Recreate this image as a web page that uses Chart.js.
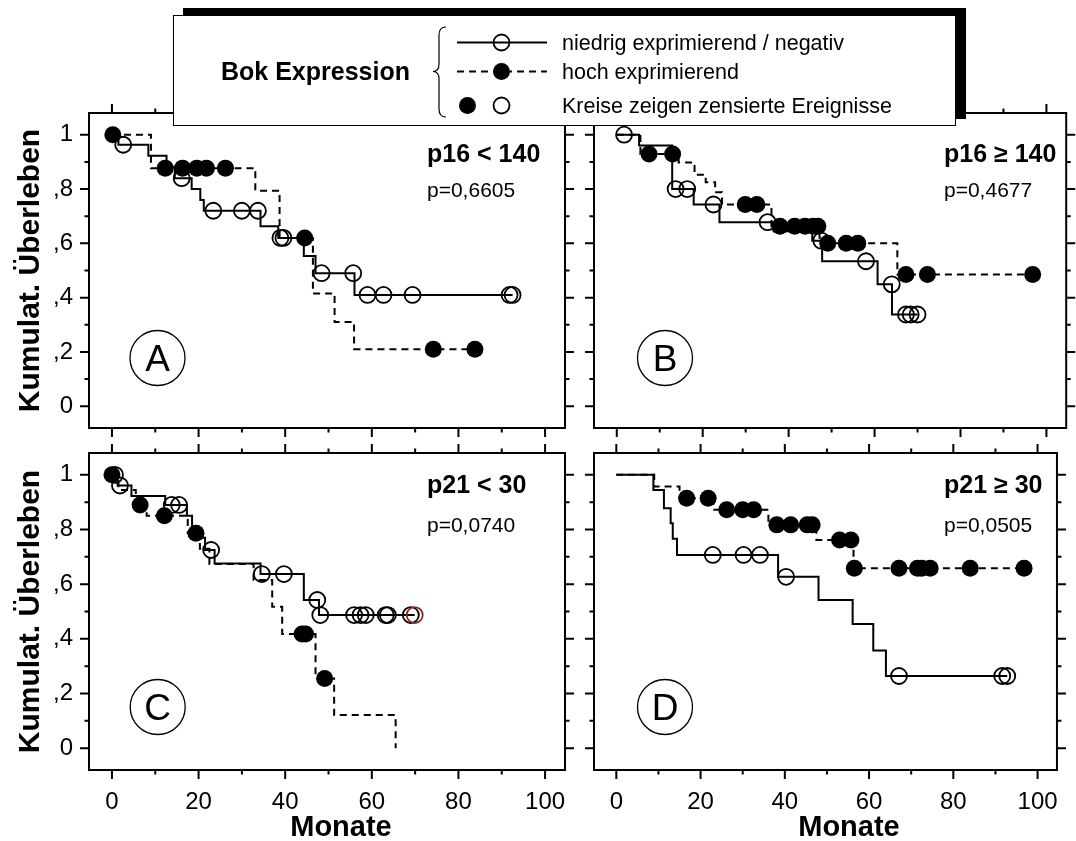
<!DOCTYPE html>
<html>
<head>
<meta charset="utf-8">
<title>Bok Expression – Kaplan-Meier</title>
<script src="https://cdn.jsdelivr.net/npm/chart.js@4.4.1/dist/chart.umd.min.js"></script>
<style>
  html, body { margin: 0; padding: 0; background: #fff; }
  #page { position: relative; width: 1076px; height: 841px; overflow: hidden; font-family: "Liberation Sans", Arial, sans-serif; color: #000; }
  #page canvas { position: absolute; left: 0; top: 0; }
  #legend { position: absolute; left: 173px; top: 15px; width: 783px; height: 111px; box-sizing: border-box;
            background: #fff; border: 1.5px solid #000; box-shadow: 10px -7px 0 0 #000; z-index: 10; }
  #legend svg { position: absolute; left: 0; top: 0; }
  #legend .head { position: absolute; left: 47px; top: 40px; font-size: 25px; font-weight: bold; line-height: 30px; white-space: nowrap; }
  #legend .lbl { position: absolute; left: 388px; font-size: 21.5px; line-height: 24px; white-space: nowrap; }
</style>
</head>
<body>
<div id="page">
  <canvas id="pA" width="1076" height="841"></canvas>
  <canvas id="pB" width="1076" height="841"></canvas>
  <canvas id="pC" width="1076" height="841"></canvas>
  <canvas id="pD" width="1076" height="841"></canvas>

  <div id="legend">
    <svg width="780" height="108">
      <path d="M 272 11 Q 265 11 265 19 L 265 48 Q 265 55.5 259 55.5 Q 265 55.5 265 63 L 265 93 Q 265 101 272 101"
            fill="none" stroke="#000" stroke-width="1.2"/>
      <line x1="283" y1="26.5" x2="373" y2="26.5" stroke="#000" stroke-width="2"/>
      <circle cx="327.5" cy="26.5" r="8" fill="none" stroke="#000" stroke-width="1.8"/>
      <line x1="283" y1="55.5" x2="373" y2="55.5" stroke="#000" stroke-width="2" stroke-dasharray="7 5"/>
      <circle cx="327.5" cy="55.5" r="8.5" fill="#000"/>
      <circle cx="293.5" cy="89.5" r="8.5" fill="#000"/>
      <circle cx="327.5" cy="89.5" r="8" fill="none" stroke="#000" stroke-width="1.8"/>
    </svg>
    <div class="head">Bok Expression</div>
    <div class="lbl" style="top:14.5px">niedrig exprimierend / negativ</div>
    <div class="lbl" style="top:43.5px">hoch exprimierend</div>
    <div class="lbl" style="top:77.5px">Kreise zeigen zensierte Ereignisse</div>
  </div>
</div>

<script>
// ---- Daten: Stufenzeitpunkte (Monate), Überlebensrate ab diesem Zeitpunkt, zensierte Zeitpunkte ----
// A: p16 < 140
const aLowT = [0, 1.5, 8.4, 12.6, 14.5, 18.4, 20.4, 21.2, 34.3, 38.4, 44.3, 47, 56, 92.5];
const aLowS = [1, 0.963, 0.923, 0.88, 0.84, 0.80, 0.76, 0.72, 0.663, 0.62, 0.553, 0.49, 0.41, 0.41];
const aLowCens = [2.6, 16.1, 23.4, 30, 33.7, 38.9, 39.6, 48.4, 55.7, 59, 62.7, 69.4, 91.8, 92.5];
const aHighT = [0, 9, 33.1, 38.7, 46.4, 51.4, 55.9, 83.8];
const aHighS = [1, 0.877, 0.794, 0.62, 0.415, 0.31, 0.21, 0.21];
const aHighCens = [0.2, 12.3, 16.3, 19.6, 21.8, 26.2, 44.5, 74.2, 83.8];

// B: p16 >= 140
const bLowT = [0, 5.2, 12.9, 17.9, 23.9, 36.5, 45.5, 47.8, 60.7, 64.05, 70];
const bLowS = [1, 0.96, 0.80, 0.743, 0.678, 0.645, 0.61, 0.534, 0.449, 0.338, 0.338];
const bLowCens = [1.7, 13.7, 16.4, 22.5, 35.1, 47.6, 58, 64, 67.3, 68.4, 70];
const bHighT = [0, 5.5, 14.4, 18.1, 20.7, 22.9, 24.5, 36, 47.2, 65.3, 96.8];
const bHighS = [1, 0.929, 0.898, 0.853, 0.825, 0.788, 0.743, 0.663, 0.60, 0.485, 0.485];
const bHighCens = [7.5, 13, 29.9, 32.6, 38, 41.4, 43.8, 45.7, 46.8, 49.1, 53.4, 56.1, 67.3, 72.3, 96.8];

// C: p21 < 30
const cLowT = [0, 1.3, 4.5, 12.3, 17.3, 18.5, 20, 21.5, 23.7, 34.3, 44.3, 47.8, 69.9];
const cLowS = [1, 0.961, 0.923, 0.89, 0.85, 0.81, 0.77, 0.725, 0.676, 0.637, 0.542, 0.487, 0.487];
const cLowCens = [0.7, 1.85, 13.8, 15.5, 22.9, 34.6, 39.7, 47.4, 48.1, 55.9, 57.4, 58.6, 63.2, 63.7, 69, 69.9];
const cHighT = [0, 1.5, 5.5, 8, 17.5, 20.3, 22.5, 32.7, 37, 39.3, 47, 51.3, 65.5];
const cHighS = [1, 0.945, 0.89, 0.85, 0.786, 0.73, 0.674, 0.615, 0.517, 0.418, 0.255, 0.121, 0];
const cHighCens = [0, 6.5, 12.1, 19.4, 43.9, 44.7, 49.1];

// D: p21 >= 30
const dLowT = [0, 8.8, 11.3, 12.9, 13.4, 14.4, 38.4, 48, 56.1, 61, 64, 92.8];
const dLowS = [1, 0.945, 0.878, 0.823, 0.766, 0.707, 0.627, 0.542, 0.454, 0.357, 0.264, 0.264];
const dLowCens = [22.9, 30.2, 34.1, 40.3, 67.1, 91.6, 92.8];
const dHighT = [0, 9, 15, 23, 36.1, 47.5, 56.3, 96.8];
const dHighS = [1, 0.957, 0.914, 0.872, 0.817, 0.762, 0.658, 0.658];
const dHighCens = [16.7, 21.8, 26.2, 30, 32.6, 38.1, 41.4, 45.3, 46.5, 53, 55.7, 56.5, 67.1, 71.5, 72.5, 74.5, 84, 96.8];

// Achsen
const xMajor = [0, 20, 40, 60, 80, 100];
const xMinor = [10, 30, 50, 70, 90];
const yMajor = [0, 0.2, 0.4, 0.6, 0.8, 1];
const yMinor = [0.1, 0.3, 0.5, 0.7, 0.9];
const X_MIN = -5.3, X_MAX = 104.6;
const Y_MIN = -0.08, Y_MAX = 1.08;

const FONT = '"Liberation Sans", Arial, sans-serif';
Chart.defaults.font.family = FONT;
Chart.defaults.color = '#000';

// step curve -> points
function steps(t, s) {
  return t.map((x, i) => ({ x: x, y: s[i] }));
}
// censored marks sit on the step curve
function marks(cens, t, s) {
  return cens.map(x => {
    let v = s[0];
    for (let i = 0; i < t.length; i++) if (t[i] <= x) v = s[i];
    return { x: x, y: v };
  });
}

// frame + outer tick marks (major and minor)
const framePlugin = {
  id: 'frame',
  afterDraw(chart) {
    const { ctx, chartArea: a, scales: { x, y } } = chart;
    ctx.save();
    ctx.strokeStyle = '#000';
    ctx.lineWidth = 2;
    ctx.strokeRect(a.left, a.top, a.right - a.left, a.bottom - a.top);
    ctx.beginPath();
    const xt = (v, len) => {
      const p = x.getPixelForValue(v);
      ctx.moveTo(p, a.bottom); ctx.lineTo(p, a.bottom + len);
      ctx.moveTo(p, a.top); ctx.lineTo(p, a.top - len);
    };
    const yt = (v, len) => {
      const p = y.getPixelForValue(v);
      ctx.moveTo(a.left, p); ctx.lineTo(a.left - len, p);
      ctx.moveTo(a.right, p); ctx.lineTo(a.right + len, p);
    };
    xMajor.forEach(v => xt(v, 9));
    xMinor.forEach(v => xt(v, 4.5));
    yMajor.forEach(v => yt(v, 9));
    yMinor.forEach(v => yt(v, 4.5));
    ctx.stroke();
    ctx.restore();
  }
};

// panel title, p-value, circled letter, x title
const panelTextPlugin = {
  id: 'panelText',
  afterDraw(chart, args, o) {
    const ctx = chart.ctx;
    ctx.save();
    ctx.fillStyle = '#000';
    ctx.strokeStyle = '#000';
    ctx.textBaseline = 'alphabetic';
    ctx.textAlign = 'left';
    ctx.font = 'bold 25px ' + FONT;
    ctx.fillText(o.title, o.tx, o.ty);
    ctx.font = '21px ' + FONT;
    ctx.fillText(o.pval, o.tx, o.py);

    ctx.beginPath();
    ctx.lineWidth = 1.3;
    ctx.arc(o.lx, o.ly, 27.5, 0, Math.PI * 2);
    ctx.stroke();
    ctx.textAlign = 'center';
    ctx.font = '37px ' + FONT;
    ctx.fillText(o.letter, o.lx, o.ly + 13);

    if (o.xTitle) {
      ctx.font = 'bold 29px ' + FONT;
      ctx.fillText(o.xTitle, o.mx, 836);
    }
    ctx.restore();
  }
};

function makePanel(id, p) {
  const lowLine = {
    data: steps(p.lowT, p.lowS), borderColor: '#000', borderWidth: 2,
    stepped: 'before', pointRadius: 0, fill: false, order: 2
  };
  const highLine = {
    data: steps(p.highT, p.highS), borderColor: '#000', borderWidth: 2, borderDash: [7, 5],
    stepped: 'before', pointRadius: 0, fill: false, order: 2
  };
  const lowMarks = {
    data: marks(p.lowCens, p.lowT, p.lowS), showLine: false, pointStyle: 'circle',
    pointRadius: 8, pointBorderWidth: 1.8, pointBackgroundColor: 'rgba(0,0,0,0)',
    pointBorderColor: p.lowColors || '#000', order: 0
  };
  const highMarks = {
    data: marks(p.highCens, p.highT, p.highS), showLine: false, pointStyle: 'circle',
    pointRadius: 8.5, pointBorderWidth: 0, pointBackgroundColor: '#000', pointBorderColor: '#000', order: 0
  };

  return new Chart(document.getElementById(id), {
    type: 'line',
    data: { datasets: [lowMarks, highMarks, lowLine, highLine] },
    options: {
      responsive: false,
      animation: false,
      events: [],
      layout: { padding: p.pad },
      scales: {
        x: {
          type: 'linear', min: X_MIN, max: X_MAX,
          display: p.showX,
          afterFit: s => { if (p.showX) s.height = 71; },
          afterBuildTicks: s => { s.ticks = xMajor.map(v => ({ value: v })); },
          grid: { display: false, drawTicks: false },
          border: { display: false },
          ticks: { autoSkip: false, maxRotation: 0, padding: 18, font: { size: 24 }, callback: v => String(v) }
        },
        y: {
          type: 'linear', min: Y_MIN, max: Y_MAX,
          display: p.showY,
          afterFit: s => { if (p.showY) s.width = 89; },
          afterBuildTicks: s => { s.ticks = yMajor.map(v => ({ value: v })); },
          grid: { display: false, drawTicks: false },
          border: { display: false },
          ticks: {
            padding: 16, font: { size: 24 },
            callback: v => (v === 0 ? '0' : v === 1 ? '1' : ',' + Math.round(v * 10))
          },
          title: {
            display: true, text: 'Kumulat. Überleben',
            font: { size: 30, weight: 'bold' }, padding: { top: 13, bottom: 0 }
          }
        }
      },
      plugins: {
        legend: { display: false },
        tooltip: { enabled: false },
        panelText: p.text
      }
    },
    plugins: [framePlugin, panelTextPlugin]
  });
}

makePanel('pA', {
  lowT: aLowT, lowS: aLowS, lowCens: aLowCens, highT: aHighT, highS: aHighS, highCens: aHighCens,
  pad: { left: 0, top: 113, right: 511, bottom: 413 }, showX: false, showY: true,
  text: { title: 'p16 < 140', pval: 'p=0,6605', tx: 427, ty: 162, py: 197, letter: 'A', lx: 157.5, ly: 358 }
});
makePanel('pB', {
  lowT: bLowT, lowS: bLowS, lowCens: bLowCens, highT: bHighT, highS: bHighS, highCens: bHighCens,
  pad: { left: 594, top: 113, right: 8, bottom: 413 }, showX: false, showY: false,
  text: { title: 'p16 \u2265 140', pval: 'p=0,4677', tx: 944, ty: 162, py: 197, letter: 'B', lx: 665, ly: 358 }
});
makePanel('pC', {
  lowT: cLowT, lowS: cLowS, lowCens: cLowCens, highT: cHighT, highS: cHighS, highCens: cHighCens,
  lowColors: cLowCens.map((t, i) => (i === cLowCens.length - 1 ? '#8a2a2a' : '#000')),
  pad: { left: 0, top: 453, right: 511, bottom: 0 }, showX: true, showY: true,
  text: { title: 'p21 < 30', pval: 'p=0,0740', tx: 427, ty: 493, py: 532, letter: 'C', lx: 157.7, ly: 707,
          xTitle: 'Monate', mx: 341 }
});
makePanel('pD', {
  lowT: dLowT, lowS: dLowS, lowCens: dLowCens, highT: dHighT, highS: dHighS, highCens: dHighCens,
  pad: { left: 594, top: 453, right: 8, bottom: 0 }, showX: true, showY: false,
  text: { title: 'p21 \u2265 30', pval: 'p=0,0505', tx: 944, ty: 493, py: 532, letter: 'D', lx: 665, ly: 707,
          xTitle: 'Monate', mx: 849 }
});
</script>
</body>
</html>
